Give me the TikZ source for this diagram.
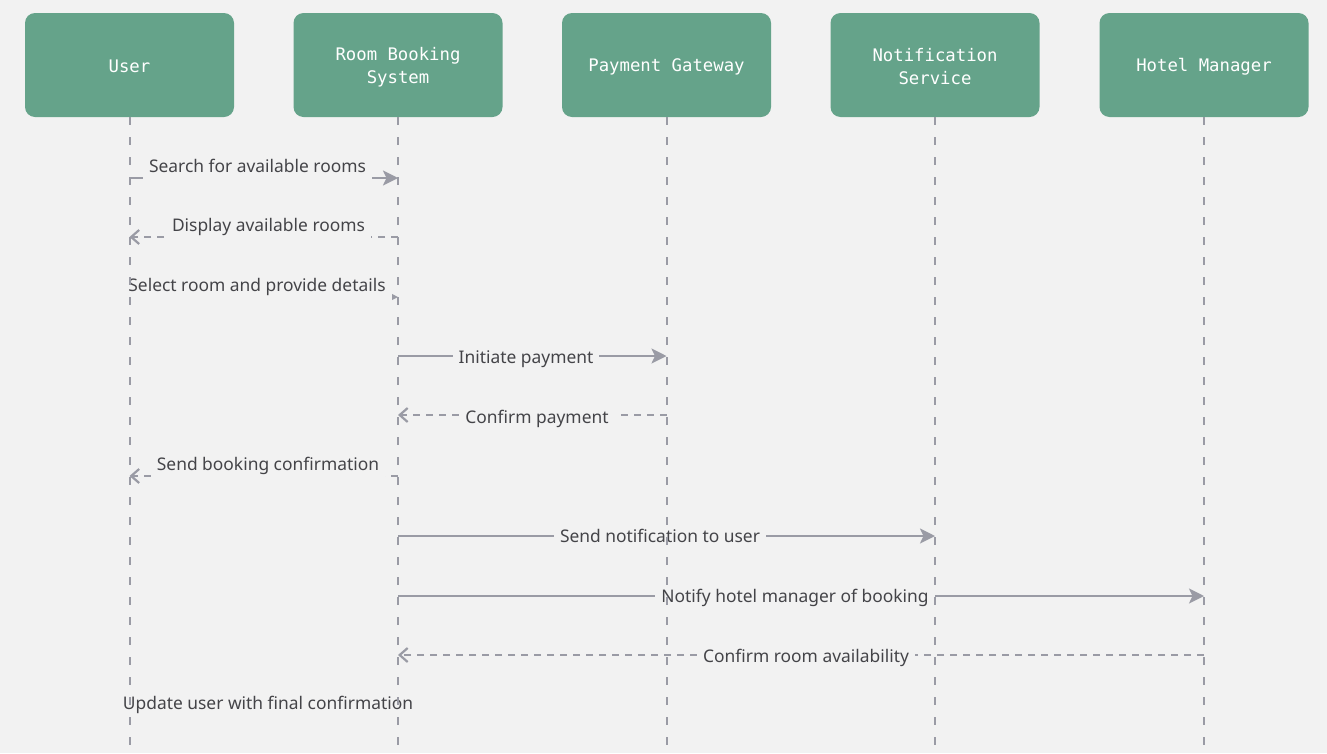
\documentclass[tikz,border=0pt]{standalone}
\usepackage{fontspec}
\setmainfont{Noto Sans}
\newfontfamily\headmono{DejaVu Sans Mono}
\usetikzlibrary{arrows.meta}
\definecolor{bg}{HTML}{F2F2F2}
\definecolor{boxgreen}{HTML}{65A38A}
\definecolor{linegray}{HTML}{9A9BA5}
\definecolor{txtgray}{HTML}{444448}
\begin{document}
\begin{tikzpicture}[x=1pt,y=-1pt,
  actor/.style={fill=boxgreen, rounded corners=10pt, minimum width=209pt, minimum height=104pt,
    inner sep=0pt},
  actortext/.style={text=white, font=\headmono\fontsize{17.3}{23}\selectfont, align=center,
    inner sep=0pt, yshift=-1.5pt},
  actortwo/.style={actortext, yshift=-0.5pt},
  lifeline/.style={draw=linegray, line width=2pt, dash pattern=on 8pt off 12pt},
  msg/.style={draw=linegray, line width=2.3pt, -{Stealth[length=15pt,width=15pt,inset=3.5pt]}},
  reply/.style={draw=linegray, line width=2.2pt, dash pattern=on 7pt off 6pt,
    -{Straight Barb[length=8pt,width=14pt,line width=2.2pt]}},
  lbl/.style={fill=bg, text=txtgray, font=\fontsize{17.4}{20}\selectfont, inner xsep=6pt,
    inner ysep=0pt, text height=13pt, text depth=5pt, anchor=base},
  lblup/.style={lbl, text depth=15pt},
]
\fill[bg] (0,0) rectangle (1327,753);
\useasboundingbox (0,0) rectangle (1327,753);

% actors
\node[actor, label={[actortext]center:User}] (user) at (129.5,65) {};
\node[actor, label={[actortwo]center:{Room Booking\\System}}] (rbs) at (398,65) {};
\node[actor, label={[actortext]center:Payment Gateway}] (pg) at (666.5,65) {};
\node[actor, label={[actortwo]center:{Notification\\Service}}] (ns) at (935,65) {};
\node[actor, label={[actortext]center:Hotel Manager}] (hm) at (1204,65) {};

% lifeline ends
\coordinate (userend) at (129.5,753);
\coordinate (rbsend)  at (398,753);
\coordinate (pgend)   at (666.5,753);
\coordinate (nsend)   at (935,753);
\coordinate (hmend)   at (1204,753);

% message anchor points on lifelines
\coordinate (u1) at (129.5,178); \coordinate (r1) at (398,178);
\coordinate (u2) at (129.5,237); \coordinate (r2) at (398,237);
\coordinate (u3) at (129.5,297); \coordinate (r3) at (398,297);
\coordinate (r4) at (398,356);   \coordinate (p4) at (666.5,356);
\coordinate (r5) at (398,415);   \coordinate (p5) at (666.5,415);
\coordinate (u6) at (129.5,476); \coordinate (r6) at (398,476);
\coordinate (r7) at (398,536);   \coordinate (n7) at (935,536);
\coordinate (r8) at (398,596);   \coordinate (h8) at (1204,596);
\coordinate (r9) at (398,655);   \coordinate (h9) at (1204,655);
\coordinate (u10) at (129.5,713); \coordinate (r10) at (398,713);

% messages
\draw[msg]   (u1) -- (r1);
\draw[reply] (r2) -- (u2);
\draw[msg]   (u3) -- (r3);
\draw[msg]   (r4) -- (p4);
\draw[reply] (p5) -- (r5);
\draw[reply] (r6) -- (u6);
\draw[msg]   (r7) -- (n7);
\draw[msg]   (r8) -- (h8);
\draw[reply] (h9) -- (r9);
\draw[reply] (r10) -- (u10);

% labels
\node[lblup] (t1) at (257.5,172) {Search for available rooms};
\node[lblup] (t2) at (268.5,231) {Display available rooms};
\node[lblup] (t3) at (257,291) {Select room and provide details};
\node[lbl]   (t4) at (526,363) {Initiate payment};
\node[lbl]   (t5) at (537,423) {Confirm payment};
\node[lblup] (t6) at (268,470) {Send booking confirmation};
\node[lbl]   (t7) at (660,542) {Send notification to user};
\node[lbl]   (t8) at (795,602) {Notify hotel manager of booking};
\node[lbl]   (t9) at (806,662) {Confirm room availability};
\node[lblup] (t10) at (268,709) {Update user with final confirmation};

% lifelines on top
\draw[lifeline] (user.south) -- (userend);
\draw[lifeline] (rbs.south) -- (rbsend);
\draw[lifeline] (pg.south) -- (pgend);
\draw[lifeline] (ns.south) -- (nsend);
\draw[lifeline] (hm.south) -- (hmend);
\end{tikzpicture}
\end{document}
